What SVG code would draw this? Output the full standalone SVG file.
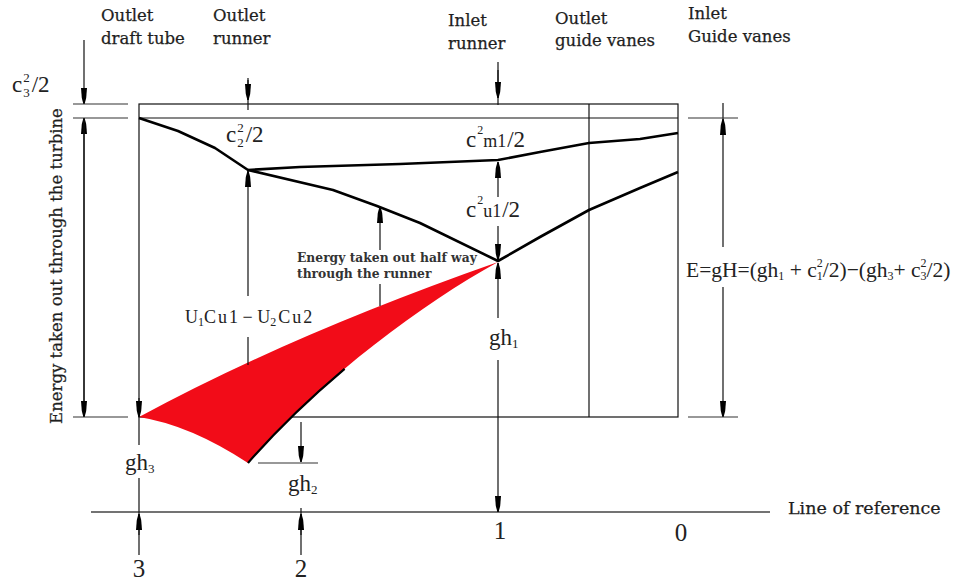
<svg xmlns="http://www.w3.org/2000/svg" width="962" height="585" viewBox="0 0 962 585">
<style>
.t{font-family:"DejaVu Serif","Liberation Serif",serif;font-size:16.5px;fill:#1e1e1e;stroke:#1e1e1e;stroke-width:0.25}
.b{font-family:"DejaVu Serif","Liberation Serif",serif;font-size:12.3px;font-weight:bold;fill:#333}
.m{font-family:"Liberation Serif","DejaVu Serif",serif;font-size:23px;fill:#222}
.n{font-family:"Liberation Serif","DejaVu Serif",serif;font-size:25px;fill:#222}
.l{stroke:#111;stroke-width:1.2;fill:none}
.g{stroke:#333;stroke-width:1.2;fill:none}
.a{stroke:#111;stroke-width:1.2;fill:none;marker-end:url(#ah)}
.c{stroke:#000;stroke-width:2.6;fill:none;stroke-linejoin:round}
</style>
<defs>
<marker id="ah" viewBox="0 0 16 6" refX="16" refY="3" markerWidth="16" markerHeight="6" markerUnits="userSpaceOnUse" orient="auto">
<path d="M0,0 L10,0.8 L16,2.4 L16,3.6 L10,5.2 L0,6 z" fill="#000"/>
</marker>
</defs>

<g id="frame">
<rect x="139" y="104" width="539" height="313" class="l"/>
<line x1="139" y1="118" x2="678" y2="118" class="l"/>
<line x1="589" y1="104" x2="589" y2="417" class="l"/>
<line x1="91" y1="512" x2="770" y2="512" stroke="#444" stroke-width="1.6"/>
</g>

<g id="energy-region">
<path d="M139,417 Q290,335 498,262 C420,305 320,380 248,463 Q190,425 139,417 z" fill="#f20c18"/>
<path d="M344.6,368.8 C310.1,397.9 276.8,429.8 248,463" stroke="#000" stroke-width="2.2" fill="none"/>
</g>

<g id="lines">
<polyline class="c" points="139,118 178,131 215,148 248,170 300,167 400,164 498,160 540,152 589,143 640,139 678,133"/>
<polyline class="c" points="248,170 333,190 377,206 420,223 498,261 540,237 589,210 640,188 678,172"/>
</g>

<g id="connectors">
<line x1="84" y1="40" x2="84" y2="104" class="a"/>
<line x1="84" y1="417" x2="84" y2="118" class="a"/>
<line x1="84" y1="118" x2="84" y2="417" class="a"/>
<line x1="73" y1="104" x2="128" y2="104" class="g"/>
<line x1="73" y1="118" x2="128" y2="118" class="g"/>
<line x1="73" y1="417" x2="128" y2="417" class="g"/>

<line x1="139" y1="398" x2="139" y2="417" class="a"/>
<line x1="139" y1="417" x2="139" y2="445" class="l"/>
<line x1="139" y1="478" x2="139" y2="555" class="l"/>
<line x1="139" y1="535" x2="139" y2="514" class="a"/>

<line x1="248" y1="78" x2="248" y2="110" class="l"/>
<line x1="248" y1="80" x2="248" y2="100" class="a"/>
<line x1="248" y1="296" x2="248" y2="171" class="a"/>
<line x1="248" y1="337" x2="248" y2="365" class="l"/>

<line x1="380" y1="250" x2="380" y2="207" class="a"/>
<line x1="380" y1="284" x2="380" y2="306" class="l"/>

<line x1="498" y1="62" x2="498" y2="105" class="l"/>
<line x1="498" y1="70" x2="498" y2="98" class="a"/>
<line x1="498" y1="197" x2="498" y2="162" class="a"/>
<line x1="498" y1="226" x2="498" y2="260" class="a"/>
<line x1="498" y1="318" x2="498" y2="263" class="a"/>
<line x1="498" y1="360" x2="498" y2="512" class="a"/>

<line x1="301" y1="422" x2="301" y2="462" class="a"/>
<line x1="258" y1="463" x2="318" y2="463" class="g"/>
<line x1="301" y1="508" x2="301" y2="555" class="l"/>
<line x1="301" y1="535" x2="301" y2="514" class="a"/>

<line x1="723" y1="103" x2="723" y2="119" class="l"/>
<line x1="723" y1="247" x2="723" y2="119" class="a"/>
<line x1="723" y1="287" x2="723" y2="417" class="a"/>
<line x1="688" y1="118" x2="738" y2="118" class="g"/>
<line x1="688" y1="417" x2="738" y2="417" class="g"/>
</g>

<g id="labels-top">
<text class="t" x="101" y="21">Outlet</text>
<text class="t" x="101" y="44">draft tube</text>
<text class="t" x="213" y="21">Outlet</text>
<text class="t" x="213" y="44">runner</text>
<text class="t" x="448" y="26">Inlet</text>
<text class="t" x="448" y="49">runner</text>
<text class="t" x="555" y="24">Outlet</text>
<text class="t" x="555" y="46">guide vanes</text>
<text class="t" x="688" y="19">Inlet</text>
<text class="t" x="688" y="42">Guide vanes</text>
</g>

<g id="label-side">
<text class="t" x="62" y="266" text-anchor="middle" transform="rotate(-90 62 266)">Energy taken out through the turbine</text>
</g>

<g id="label-half">
<text class="b" x="297" y="262">Energy taken out half way</text>
<text class="b" x="297" y="278">through the runner</text>
</g>

<g id="formulas">
<text class="m" x="12" y="92">c<tspan font-size="13" dy="-10" dx="1">2</tspan><tspan font-size="13" dx="-6.5" dy="15">3</tspan><tspan dy="-5" dx="2">/2</tspan></text>
<text class="m" x="226" y="142">c<tspan font-size="13" dy="-10" dx="1">2</tspan><tspan font-size="13" dx="-6.5" dy="15">2</tspan><tspan dy="-5" dx="2">/2</tspan></text>
<text class="m" x="466" y="147">c<tspan font-size="12" dy="-13" dx="1">2</tspan><tspan font-size="18" dy="13">m1</tspan><tspan dx="1">/2</tspan></text>
<text class="m" x="466" y="217">c<tspan font-size="12" dy="-13" dx="1">2</tspan><tspan font-size="18" dy="13">u1</tspan><tspan dx="1">/2</tspan></text>
<text class="m" x="686" y="277" style="font-size:21.5px">E=gH=(gh<tspan font-size="12" dy="3">1</tspan><tspan dy="-3"> + c</tspan><tspan font-size="12" dy="-10">2</tspan><tspan font-size="12" dx="-6" dy="13">1</tspan><tspan dy="-3">/2)−(gh</tspan><tspan font-size="12" dy="3">3</tspan><tspan dy="-3">+ c</tspan><tspan font-size="12" dy="-10">2</tspan><tspan font-size="12" dx="-6" dy="13">3</tspan><tspan dy="-3">/2)</tspan></text>
<text class="m" x="185" y="323" style="font-size:18px">U<tspan font-size="12" dy="3">1</tspan><tspan dy="-3">C<tspan dx="2">u</tspan><tspan dx="2">1</tspan> − U</tspan><tspan font-size="12" dy="3">2</tspan><tspan dy="-3" dx="2">C<tspan dx="2">u</tspan><tspan dx="2">2</tspan></tspan></text>
<text class="m" x="489" y="345">gh<tspan font-size="13" dy="3">1</tspan></text>
<text class="m" x="125" y="470">gh<tspan font-size="13" dy="3">3</tspan></text>
<text class="m" x="288" y="491">gh<tspan font-size="13" dy="3">2</tspan></text>
</g>

<g id="labels-bottom">
<text class="t" x="788" y="514" style="font-size:17.5px">Line of reference</text>
<text class="n" x="139" y="577" text-anchor="middle">3</text>
<text class="n" x="301" y="577" text-anchor="middle">2</text>
<text class="n" x="500" y="539" text-anchor="middle">1</text>
<text class="n" x="681" y="541" text-anchor="middle">0</text>
</g>
</svg>
